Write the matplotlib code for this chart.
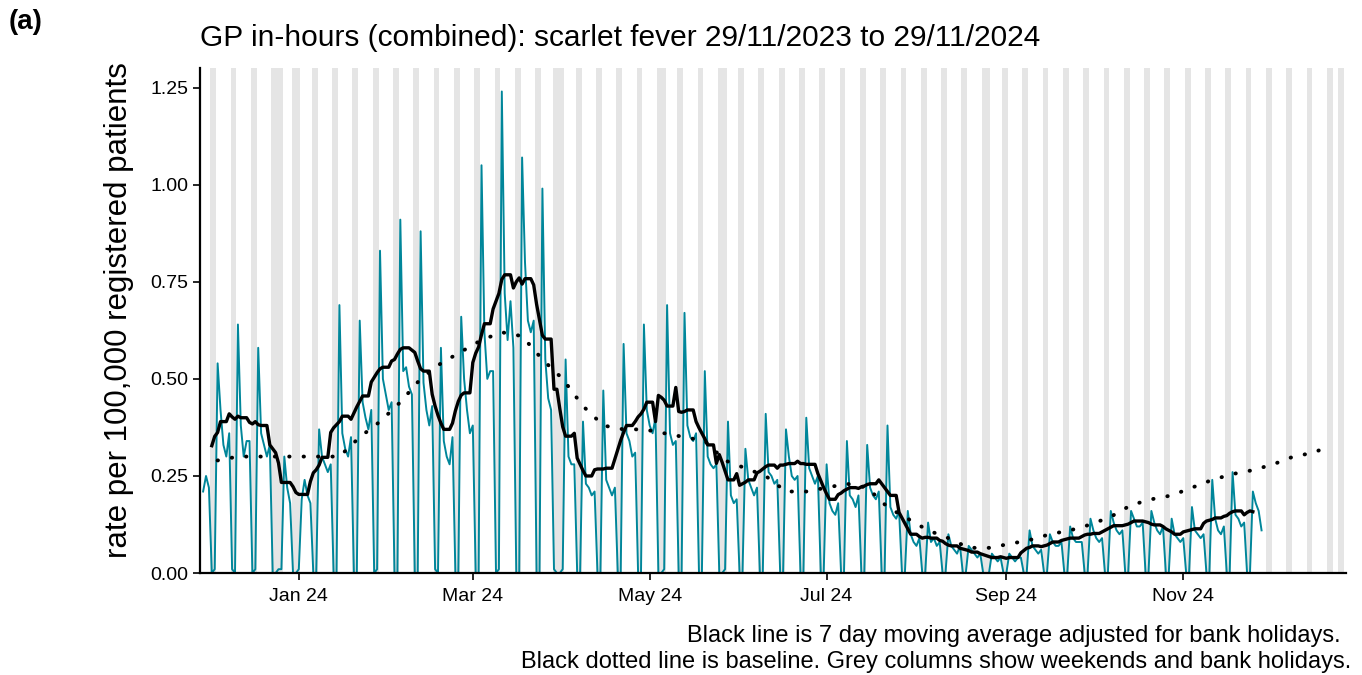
import numpy as np
import pandas as pd
import matplotlib
matplotlib.use("Agg")
import matplotlib.pyplot as plt
import matplotlib.dates as mdates

plt.rcParams['font.family'] = ['Liberation Sans', 'DejaVu Sans']

# daily rates, first partial week (Wed-Sun) then full weeks Mon..Sun
first_days = [0.21, 0.25, 0.22, 0.0, 0.01]
weeks = [
    [.54, .42, .33, .30, .36, .01, 0], [.64, .38, .30, .34, .34, 0, .01],
    [.58, .36, .33, .30, .33, 0, 0], [.01, .01, .30, .22, .18, 0, 0],
    [.01, .19, .24, .20, .18, 0, 0], [.37, .30, .28, .26, .28, 0, 0],
    [.69, .36, .32, .30, .35, 0, 0], [.65, .44, .40, .37, .42, 0, .01],
    [.83, .50, .46, .42, .44, 0, 0], [.91, .52, .53, .48, .46, 0, 0],
    [.88, .49, .42, .38, .43, .01, 0], [.58, .34, .30, .28, .35, 0, 0],
    [.66, .50, .42, .36, .38, 0, 0], [1.05, .62, .50, .52, .52, 0, .01],
    [1.24, .72, .60, .70, .58, 0, 0], [1.07, .80, .65, .62, .65, 0, 0],
    [.99, .55, .45, .42, .01, 0, 0], [.01, .55, .30, .28, .28, 0, 0],
    [.39, .23, .22, .20, .21, 0, 0], [.47, .24, .22, .20, .22, 0, 0],
    [.59, .36, .34, .30, .31, 0, 0], [.64, .42, .38, .36, .40, 0, 0],
    [.01, .69, .36, .33, .34, 0, 0], [.67, .38, .35, .34, .36, 0, 0],
    [.52, .30, .28, .27, .28, 0, 0], [.01, .39, .20, .18, .19, 0, 0],
    [.32, .24, .22, .20, .22, 0, 0], [.41, .26, .25, .23, .24, 0, 0],
    [.37, .30, .25, .24, .25, 0, 0], [.40, .27, .25, .23, .25, 0, 0],
    [.28, .18, .16, .15, .18, 0, 0], [.34, .20, .19, .17, .20, 0, 0],
    [.33, .22, .20, .19, .21, 0, 0], [.38, .17, .15, .14, .16, 0, 0],
    [.16, .10, .08, .07, .09, 0, 0], [.13, .08, .09, .07, .08, 0, 0],
    [.10, .07, .06, .05, .07, 0, 0], [.07, .06, .05, .04, .05, 0, 0],
    [.00, .05, .04, .03, .04, 0, 0], [.05, .04, .03, .04, .04, 0, 0],
    [.11, .07, .06, .05, .06, 0, 0], [.10, .08, .07, .07, .08, 0, 0],
    [.12, .09, .08, .08, .08, 0, 0], [.14, .11, .09, .08, .09, 0, 0],
    [.16, .13, .11, .10, .11, 0, 0], [.16, .14, .12, .12, .13, 0, 0],
    [.16, .13, .11, .10, .12, 0, 0], [.14, .10, .09, .08, .09, 0, 0],
    [.17, .11, .10, .09, .10, 0, 0], [.24, .14, .11, .10, .12, 0, 0],
    [.26, .15, .14, .12, .13, 0, 0],
]
last_days = [.21, .18, .16, .11]

bank_holidays = ["2023-12-25", "2023-12-26", "2024-01-01", "2024-03-29", "2024-04-01",
                 "2024-05-06", "2024-05-27", "2024-08-26", "2024-12-25", "2024-12-26"]

baseline_dates = pd.date_range("2023-12-04", "2024-12-16", freq="7D")
baseline_vals = [0.29, 0.30, 0.30, 0.30, 0.30, 0.30, 0.30, 0.35, 0.39, 0.44, 0.50, 0.54, 0.57,
                 0.60, 0.62, 0.61, 0.55, 0.50, 0.43, 0.38, 0.37, 0.37, 0.36, 0.35, 0.34, 0.29,
                 0.27, 0.25, 0.21, 0.21, 0.22, 0.23, 0.22, 0.17, 0.14, 0.11, 0.09, 0.065, 0.065,
                 0.075, 0.085, 0.10, 0.11, 0.125, 0.145, 0.175, 0.19, 0.20, 0.22, 0.24, 0.255,
                 0.265, 0.28, 0.30, 0.31]
baseline_end = ("2024-12-19", 0.32)

vals = first_days + [v for w in weeks for v in w] + last_days
dates = pd.date_range("2023-11-29", periods=len(vals), freq="D")
s = pd.Series(vals, index=dates)

hol = pd.to_datetime(bank_holidays)
working = pd.Series([(d.weekday() < 5) and (d not in hol) for d in dates], index=dates)
num = (s * working).rolling(7, center=True).sum()
den = working.astype(float).rolling(7, center=True).sum()
ma = num / den

fig = plt.figure(figsize=(13.62, 6.75), dpi=100)
ax = fig.add_axes([0.147, 0.151, 0.841, 0.748])

# grey columns: weekends and bank holidays
for d in pd.date_range("2023-11-28", "2024-12-27"):
    if d.weekday() >= 5 or d in hol:
        x = mdates.date2num(d)
        ax.axvspan(x - 0.5, x + 0.5, color="#e5e5e5", lw=0, zorder=0)

ax.plot(dates, s.values, color="#00869a", lw=1.4, zorder=2)
bx = list(baseline_dates) + [pd.Timestamp(baseline_end[0])]
by = baseline_vals + [baseline_end[1]]
ax.plot(bx, by, color="black", lw=2.8, linestyle=(0, (0.1, 3.6)), dash_capstyle="round", zorder=3)
ax.plot(dates, ma.values, color="black", lw=2.4, zorder=4)

ax.set_xlim(mdates.date2num(pd.Timestamp("2023-11-28")), mdates.date2num(pd.Timestamp("2024-12-27")))
ax.set_ylim(0, 1.3)
ax.set_yticks([0, 0.25, 0.5, 0.75, 1.0, 1.25])
ax.set_yticklabels(["0.00", "0.25", "0.50", "0.75", "1.00", "1.25"])
ax.set_xticks([pd.Timestamp(f"2024-{m:02d}-01") for m in (1, 3, 5, 7, 9, 11)])
ax.xaxis.set_major_formatter(mdates.DateFormatter("%b %y"))
ax.tick_params(labelsize=14, colors="black", length=5, width=1.2)
ax.tick_params(axis="x", pad=6)
for sp in ("top", "right"):
    ax.spines[sp].set_visible(False)
for sp in ("left", "bottom"):
    ax.spines[sp].set_linewidth(1.6)
ax.margins(0)

ax.set_ylabel("rate per 100,000 registered patients", fontsize=22.5, labelpad=12)
ax.yaxis.set_label_coords(-0.058, 0.52)
fig.text(0.147, 0.943, "GP in-hours (combined): scarlet fever 29/11/2023 to 29/11/2024",
         fontsize=21.5, va="center", ha="left")
fig.text(0.006, 0.967, "(a)", fontsize=20, fontweight="bold", va="center")
fig.text(0.984, 0.058, "Black line is 7 day moving average adjusted for bank holidays.",
         fontsize=17, ha="right", va="center")
fig.text(0.992, 0.019, "Black dotted line is baseline. Grey columns show weekends and bank holidays.",
         fontsize=17, ha="right", va="center")

fig.savefig("out.png", dpi=100)
